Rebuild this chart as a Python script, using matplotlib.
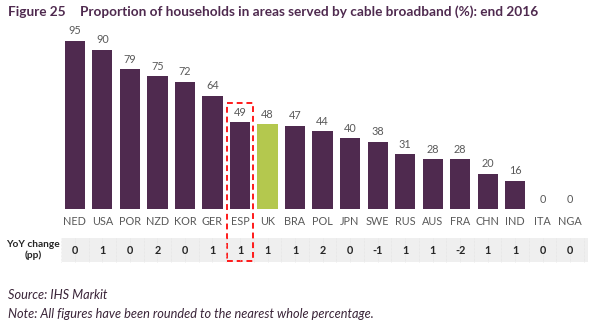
import numpy as np
import matplotlib.pyplot as plt
from matplotlib.patches import Rectangle

countries = ['NED', 'USA', 'POR', 'NZD', 'KOR', 'GER', 'ESP', 'UK', 'BRA', 'POL',
             'JPN', 'SWE', 'RUS', 'AUS', 'FRA', 'CHN', 'IND', 'ITA', 'NGA']
coverage = [95, 90, 79, 75, 72, 64, 49, 48, 47, 44, 40, 38, 31, 28, 28, 20, 16, 0, 0]
yoy_change = [0, 1, 0, 2, 0, 1, 1, 1, 1, 2, 0, -1, 1, 1, -2, 1, 1, 0, 0]

PURPLE = '#4f2a4f'
GREEN = '#b4c84e'
GREY_TXT = '#595959'
highlight = 'UK'
boxed = 'ESP'

plt.rcParams['font.family'] = ['Lato', 'DejaVu Sans']

fig = plt.figure(figsize=(6, 3.3), dpi=100)
W, H = 600, 330
# axes placed in pixel terms: left 62, right 588, baseline y=209, top y=25
ax = fig.add_axes([62 / W, (H - 209) / H, (588 - 62) / W, (209 - 25) / H])

x = np.arange(len(countries))
colors = [GREEN if c == highlight else PURPLE for c in countries]
bars = ax.bar(x, coverage, width=0.73, color=colors)
for xi, v in zip(x, coverage):
    ax.text(xi, v + 2.5, str(v), ha='center', va='bottom', fontsize=7.8, color=GREY_TXT)

ax.set_xlim(-0.47, 18.65)
ax.set_ylim(0, 104)
ax.axis('off')

tr = ax.get_xaxis_transform()
for xi, c in zip(x, countries):
    ax.text(xi, -0.07, c, ha='center', va='center', fontsize=7.8, color=GREY_TXT, transform=tr)

# YoY table row
ax.add_patch(Rectangle((-0.47, -0.288), 19.12, 0.13, transform=tr, clip_on=False,
                       facecolor='#efefef', edgecolor='none'))
for xi in np.arange(-0.5, 19, 0.5):
    ax.plot([xi, xi], [-0.288, -0.158], transform=tr, clip_on=False,
            color='#e2e2e2', lw=0.5, ls=(0, (1, 1)))
for xi, v in zip(x, yoy_change):
    ax.text(xi, -0.223, str(v), ha='center', va='center', fontsize=7.8,
            fontweight='bold', color='#262626', transform=tr)
fig.text(33 / W, 1 - 250 / H, 'YoY change\n(pp)', ha='center', va='center',
         fontsize=7.3, fontweight='bold', color='#262626', linespacing=1.3)

# dashed red box around ESP
bi = countries.index(boxed)
ax.add_patch(Rectangle((bi - 0.49, -0.285), 0.98, 0.86, transform=tr, clip_on=False,
                       facecolor='none', edgecolor='#ff1a1a', lw=1.4, ls=(0, (3, 2))))

title_color = '#4f2a4f'
fig.text(8 / W, 1 - 12 / H, 'Figure 25', ha='left', va='center', fontsize=9.8,
         fontweight='bold', color=title_color)
fig.text(80 / W, 1 - 12 / H, 'Proportion of households in areas served by cable broadband (%): end 2016',
         ha='left', va='center', fontsize=9.8, fontweight='bold', color=title_color)

fig.text(8 / W, 1 - 295 / H, 'Source: IHS Markit', ha='left', va='center', fontsize=9.2,
         style='italic', color='#3a2438')
fig.text(8 / W, 1 - 314 / H, 'Note: All figures have been rounded to the nearest whole percentage.',
         ha='left', va='center', fontsize=9.2, style='italic', color='#3a2438')

fig.savefig('out.png', dpi=100)
